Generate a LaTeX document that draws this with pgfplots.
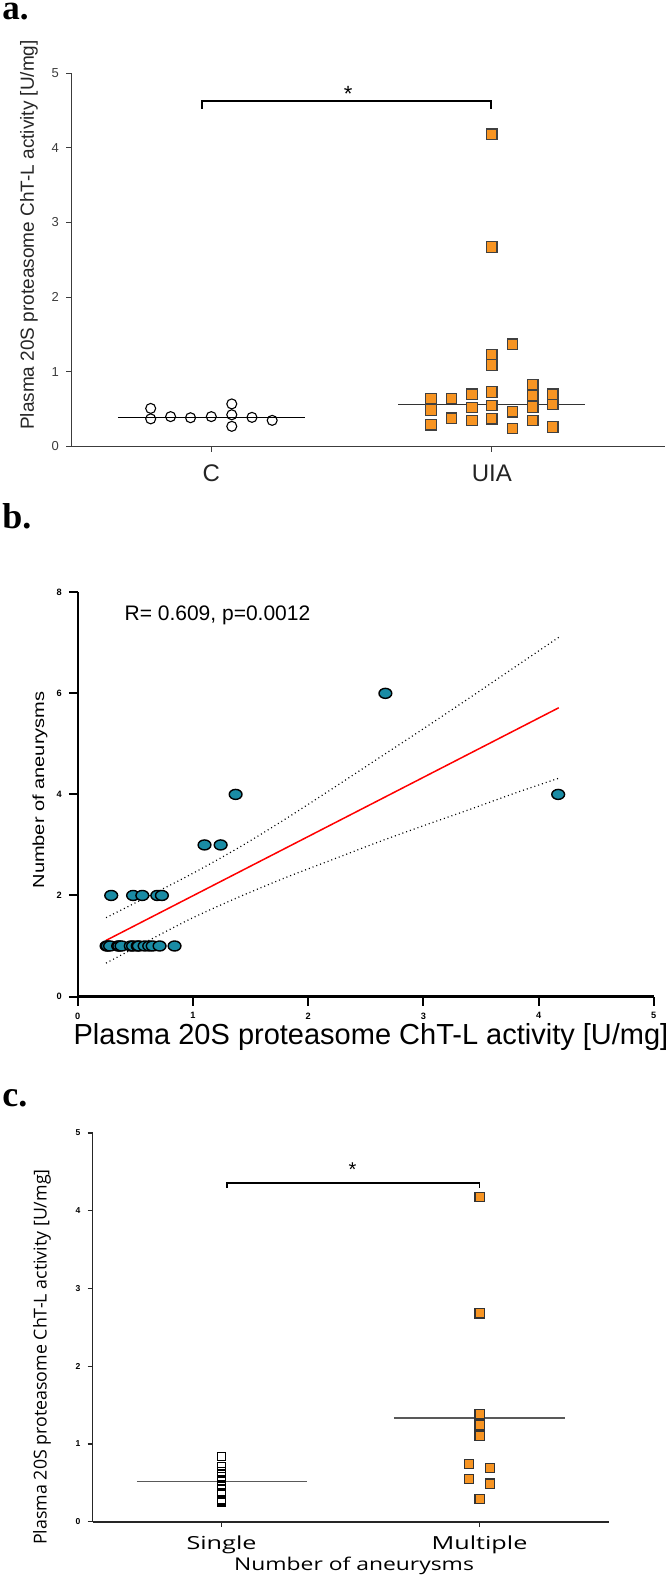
\documentclass[border=0pt]{standalone}
\usepackage{graphicx}
\usepackage{fontspec}
\usepackage{pgfplots}
\pgfplotsset{compat=1.18}
\setmainfont{Liberation Sans}
\newfontfamily\osans{Open Sans}
\newfontfamily\tnr{Liberation Serif}
\definecolor{uiaorange}{RGB}{247,148,34}
\definecolor{tealc}{RGB}{26,140,165}
\definecolor{tickgray}{RGB}{60,60,60}

% panel a: C and UIA groups
\pgfplotstableread{
x y
0.784 0.51
0.784 0.37
0.855 0.40
0.926 0.385
1.000 0.40
1.073 0.57
1.073 0.425
1.073 0.27
1.145 0.39
1.217 0.35
}\tabctrl
\pgfplotstableread{
x y
1.783 0.64
1.783 0.49
1.783 0.29
1.856 0.64
1.856 0.38
1.929 0.70
1.929 0.52
1.929 0.35
2.000 4.18
2.000 2.67
2.000 1.23
2.000 1.09
2.000 0.73
2.000 0.55
2.000 0.37
2.073 1.37
2.073 0.465
2.073 0.24
2.146 0.83
2.146 0.68
2.146 0.53
2.146 0.35
2.217 0.70
2.217 0.56
2.217 0.26
}\tabuia
% panel b: activity vs number of aneurysms
\pgfplotstableread{
x y
0.25 1
0.26 1
0.28 1
0.35 1
0.36 1
0.38 1
0.46 1
0.48 1
0.52 1
0.53 1
0.58 1
0.62 1
0.65 1
0.71 1
0.84 1
0.29 2
0.48 2
0.56 2
0.69 2
0.73 2
1.10 3
1.24 3
1.37 4
4.17 4
2.67 6
}\tabcorr
\pgfplotstableread{
x y
0.245 1.56
0.60 1.97
1.00 2.44
1.40 2.95
1.80 3.51
2.20 4.10
2.60 4.70
3.00 5.30
3.40 5.91
3.80 6.53
4.175 7.11
}\tabupper
\pgfplotstableread{
x y
0.245 0.66
0.60 1.09
1.00 1.56
1.40 1.97
1.80 2.35
2.20 2.70
2.60 3.05
3.00 3.38
3.40 3.70
3.80 4.03
4.175 4.32
}\tablower
% panel c: single vs multiple
\pgfplotstableread{
x y
1 0.25
1 0.26
1 0.28
1 0.35
1 0.36
1 0.38
1 0.46
1 0.48
1 0.52
1 0.53
1 0.58
1 0.62
1 0.65
1 0.71
1 0.84
}\tabsingle
\pgfplotstableread{
x y
2.00 4.18
2.00 2.68
2.00 1.38
2.00 1.24
2.00 1.10
1.96 0.74
2.04 0.69
1.96 0.55
2.04 0.49
2.00 0.29
}\tabmultiple

\begin{document}
\begin{tikzpicture}
\useasboundingbox (0,0) rectangle (335.5pt,-789pt);

% ---------------- a ----------------
\node[anchor=base west,inner sep=0,font=\tnr\bfseries\fontsize{17.5}{17.5}\selectfont] at (1pt,-10pt) {a.};
\begin{axis}[at={(35.5pt,-223.25pt)},anchor=south west,scale only axis,
  width=297pt,height=186.75pt,xmin=0.5,xmax=2.617,ymin=0,ymax=5,clip=false,
  axis x line*=bottom,axis y line*=left,
  axis line style={tickgray,line width=0.5pt},
  tick align=outside,major tick length=2.5pt,tick style={tickgray,line width=0.5pt},
  xtick={1,2},xticklabels={C,UIA},ytick={0,1,2,3,4,5},
  x tick label style={font=\fontsize{12}{12}\selectfont,text=tickgray!60!black,yshift=-3pt},
  y tick label style={font=\fontsize{6.5}{7}\selectfont,text=tickgray},
  /pgf/number format/assume math mode=true]
\addplot[only marks,mark=o,mark size=2.5pt,mark options={black,line width=0.55pt}] table {\tabctrl};
\addplot[black,line width=0.6pt] coordinates {(0.667,0.39) (1.333,0.39)};
\addplot[only marks,mark=square*,mark size=2.6pt,mark options={fill=uiaorange,draw=black!75,line width=0.6pt}] table {\tabuia};
\addplot[black!80,line width=0.6pt] coordinates {(1.667,0.563) (2.333,0.563)};
\addplot[black,line width=1pt] coordinates {(0.967,4.52) (0.967,4.63) (1.997,4.63) (1.997,4.52)};
\node[font=\fontsize{11}{11}\selectfont] at (axis cs:1.488,4.72) {*};
\end{axis}
\node[rotate=90,inner sep=0,font=\fontsize{9.5}{9.5}\selectfont,text=black!85] at (14.5pt,-117.5pt) {Plasma 20S proteasome ChT-L activity [U/mg]};

% ---------------- b ----------------
\node[anchor=base west,inner sep=0,font=\tnr\bfseries\fontsize{18}{18}\selectfont] at (1pt,-264.15pt) {b.};
\begin{axis}[at={(38.9pt,-498.25pt)},anchor=south west,scale only axis,
  width=288pt,height=202.1pt,xmin=0,xmax=5,ymin=0,ymax=8,clip=false,
  axis x line*=bottom,axis y line*=left,
  axis line style={black,line width=1.25pt},
  tick align=outside,major tick length=4.5pt,tick style={black,line width=1pt},
  xtick={0,1,2,3,4,5},ytick={0,2,4,6,8},
  tick label style={font=\bfseries\fontsize{4.6}{5}\selectfont},
  /pgf/number format/assume math mode=true]
\addplot[black,line width=0.6pt,dash pattern=on 0.5pt off 1.5pt,smooth] table {\tabupper};
\addplot[black,line width=0.6pt,dash pattern=on 0.5pt off 1.5pt,smooth] table {\tablower};
\addplot[red,line width=0.75pt] coordinates {(0.245,1.11) (4.175,5.715)};
\addplot[only marks,mark=*,mark size=2.5pt,mark options={xscale=1.28,fill=tealc,draw=black,line width=0.7pt}] table {\tabcorr};
\node[anchor=west,inner sep=0,font=\fontsize{10.5}{10.5}\selectfont] at (axis cs:0.403,7.55) {R= 0.609, p=0.0012};
\end{axis}
\node[rotate=90,inner sep=0,font=\fontsize{8}{8}\selectfont] at (20pt,-395pt) {\scalebox{1.25}[1]{Number of aneurysms}};
\node[anchor=base,inner sep=0,font=\fontsize{14.5}{14.5}\selectfont] at (185.5pt,-522pt) {Plasma 20S proteasome ChT-L activity [U/mg]};

% ---------------- c ----------------
\node[anchor=base west,inner sep=0,font=\tnr\bfseries\fontsize{18}{18}\selectfont] at (1pt,-553.35pt) {c.};
\begin{axis}[at={(46.25pt,-760.85pt)},anchor=south west,scale only axis,
  width=258pt,height=194.35pt,xmin=0.5,xmax=2.5,ymin=0,ymax=5,clip=false,
  axis x line*=bottom,axis y line*=left,
  axis line style={black!85,line width=0.8pt},
  tick align=outside,major tick length=2.5pt,tick style={black!85,line width=0.6pt},
  xtick={1,2},xticklabels={\scalebox{1.4}[1]{Single},\scalebox{1.4}[1]{Multiple}},
  ytick={0,1,2,3,4,5},
  x tick label style={font=\osans\fontsize{9}{9}\selectfont,yshift=-1pt},
  y tick label style={font=\bfseries\fontsize{4.3}{5}\selectfont},
  /pgf/number format/assume math mode=true]
\addplot[only marks,mark=square,mark size=2pt,mark options={black,line width=0.6pt}] table {\tabsingle};
\addplot[black!65,line width=0.7pt] coordinates {(0.672,0.514) (1.333,0.514)};
\addplot[only marks,mark=square*,mark size=2.3pt,mark options={fill=uiaorange,draw=black!80,line width=0.6pt}] table {\tabmultiple};
\addplot[black!65,line width=0.7pt] coordinates {(1.668,1.333) (2.332,1.333)};
\addplot[black,line width=0.9pt] coordinates {(1.02,4.29) (1.02,4.36) (2.0,4.36) (2.0,4.29)};
\node[font=\fontsize{10}{10}\selectfont] at (axis cs:1.508,4.53) {*};
\end{axis}
\node[rotate=90,inner sep=0,font=\osans\fontsize{8.9}{9}\selectfont] at (21pt,-678.5pt) {Plasma 20S proteasome ChT-L activity [U/mg]};
\node[anchor=base,inner sep=0,font=\osans\fontsize{8.8}{9}\selectfont] at (177pt,-785pt) {\scalebox{1.3}[1]{Number of aneurysms}};
\end{tikzpicture}
\end{document}
